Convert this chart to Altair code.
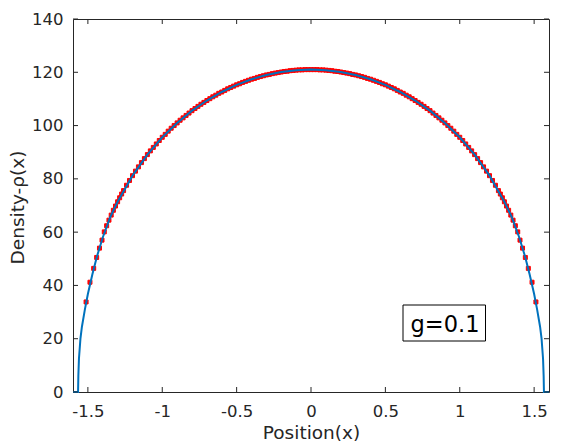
import altair as alt
import pandas as pd

# ---- data (positive half; the curve is symmetric) ----
half_line_x = [0.0, 0.1, 0.2, 0.3, 0.4, 0.5, 0.6, 0.7, 0.8, 0.9, 1.0, 1.1, 1.2, 1.3,
               1.35, 1.4, 1.44, 1.47, 1.5, 1.52, 1.54, 1.55, 1.56, 1.564, 1.566, 1.6]
half_line_y = [121.0, 120.8, 120.1, 119.0, 117.4, 115.3, 112.6, 109.4, 105.6, 101.0, 95.6, 89.1, 81.2, 71.4,
               65.6, 58.0, 50.7, 44.1, 36.8, 31.0, 24.5, 20.0, 12.5, 6.0, 0.0, 0.0]

half_mark_x = [0.00, 0.02, 0.04, 0.06, 0.08, 0.10, 0.12, 0.14, 0.16, 0.18,
               0.20, 0.22, 0.24, 0.26, 0.28, 0.30, 0.32, 0.34, 0.36, 0.38,
               0.40, 0.42, 0.44, 0.46, 0.48, 0.50, 0.52, 0.54, 0.56, 0.58,
               0.60, 0.62, 0.64, 0.66, 0.68, 0.70, 0.72, 0.74, 0.76, 0.78,
               0.80, 0.82, 0.84, 0.86, 0.88, 0.90, 0.92, 0.94, 0.96, 0.98,
               1.00, 1.02, 1.04, 1.06, 1.08, 1.10, 1.12, 1.14, 1.16, 1.18,
               1.20, 1.22, 1.24, 1.26,
               1.273, 1.2865, 1.3002, 1.3142, 1.3285, 1.3432, 1.3583, 1.3738, 1.3898,
               1.405, 1.422, 1.441, 1.461, 1.486, 1.512]
half_mark_y = [121.0, 121.0, 121.0, 120.9, 120.9, 120.8, 120.7, 120.6, 120.4, 120.3,
               120.1, 119.9, 119.7, 119.5, 119.2, 119.0, 118.7, 118.4, 118.1, 117.7,
               117.4, 117.0, 116.6, 116.2, 115.7, 115.3, 114.8, 114.3, 113.8, 113.2,
               112.6, 112.1, 111.4, 110.8, 110.1, 109.4, 108.7, 108.0, 107.2, 106.4,
               105.6, 104.7, 103.8, 102.9, 102.0, 101.0, 100.0, 99.0, 97.9, 96.7,
               95.6, 94.4, 93.1, 91.8, 90.5, 89.1, 87.6, 86.1, 84.5, 82.9,
               81.2, 79.4, 77.6, 75.6,
               74.3, 72.9, 71.4, 69.8, 68.2, 66.4, 64.5, 62.4, 60.1,
               57.0, 54.0, 50.5, 46.4, 41.2, 33.8]

x_ticks = [-1.5, -1.0, -0.5, 0.0, 0.5, 1.0, 1.5]
y_ticks = [0, 20, 40, 60, 80, 100, 120, 140]
annotation = ["g=0.1"]


def mirror(xs, ys):
    fx = [-v for v in reversed(xs[1:])] + list(xs)
    fy = list(reversed(ys[1:])) + list(ys)
    return fx, fy


lx, ly = mirror(half_line_x, half_line_y)
mx, my = mirror(half_mark_x, half_mark_y)
line_df = pd.DataFrame({"x": lx, "y": ly})
mark_df = pd.DataFrame({"x": mx, "y": my})
xt_df = pd.DataFrame({"x": x_ticks})
yt_df = pd.DataFrame({"y": y_ticks})
ann_df = pd.DataFrame({"label": annotation})

W, H = 476, 373
FONT = "DejaVu Sans"
AX = "#262626"

xscale = alt.Scale(domain=[-1.6, 1.6], nice=False, zero=False)
yscale = alt.Scale(domain=[0, 140], nice=False, zero=False)

x_axis = alt.Axis(values=x_ticks, labelExpr="'' + datum.value", title="Position(x)",
                  ticks=False, domain=False, grid=False, labelFlush=False, labelOverlap=False,
                  labelFont=FONT, labelFontSize=16.5, labelColor=AX, labelPadding=24,
                  labelBaseline="alphabetic",
                  titleFont=FONT, titleFontSize=18.5, titleColor=AX, titleFontWeight="normal",
                  titleY=46, titleBaseline="alphabetic")
y_axis = alt.Axis(values=y_ticks, title="Density-ρ(x)",
                  ticks=False, domain=False, grid=False, labelFlush=False, labelOverlap=False,
                  labelFont=FONT, labelFontSize=16.5, labelColor=AX, labelPadding=10,
                  titleFont=FONT, titleFontSize=18.5, titleColor=AX, titleFontWeight="normal",
                  titleAngle=270, titleX=-56, titleY=188, titleBaseline="middle", titleAlign="center")

X = alt.X("x:Q", scale=xscale, axis=x_axis)
Y = alt.Y("y:Q", scale=yscale, axis=y_axis)

markers = alt.Chart(mark_df).mark_point(shape="square", filled=True, size=16, color="#FF0000",
                                         stroke="#FF0000", strokeWidth=1, opacity=1).encode(x=X, y=Y)

line = alt.Chart(line_df).mark_line(color="#0072BD", strokeWidth=2).encode(x=X, y=Y)

tick_style = dict(color=AX, strokeWidth=1)
xt_bottom = alt.Chart(xt_df).mark_rule(**tick_style).encode(
    x=X, y=alt.value(H), y2=alt.value(H - 5))
xt_top = alt.Chart(xt_df).mark_rule(**tick_style).encode(
    x=X, y=alt.value(0), y2=alt.value(5))
yt_left = alt.Chart(yt_df).mark_rule(**tick_style).encode(
    y=Y, x=alt.value(0), x2=alt.value(5))
yt_right = alt.Chart(yt_df).mark_rule(**tick_style).encode(
    y=Y, x=alt.value(W), x2=alt.value(W - 5))

box = alt.Chart(ann_df).mark_rect(fill="white", stroke="black", strokeWidth=1).encode(
    x=alt.value(330), x2=alt.value(412.5), y=alt.value(286), y2=alt.value(322))
text = alt.Chart(ann_df).mark_text(font=FONT, fontSize=22.5, color="black", align="center",
                                   baseline="alphabetic").encode(
    x=alt.value(372), y=alt.value(313), text="label:N")

chart = alt.layer(markers, line, xt_bottom, xt_top, yt_left, yt_right, box, text).properties(
    width=W, height=H,
    autosize=alt.AutoSizeParams(type="none"),
    padding={"left": 73, "top": 19, "right": 13, "bottom": 51},
    background="white",
).configure_view(stroke=AX, strokeWidth=1)

chart.save("out.html", embed_options={"renderer": "svg", "actions": False})
